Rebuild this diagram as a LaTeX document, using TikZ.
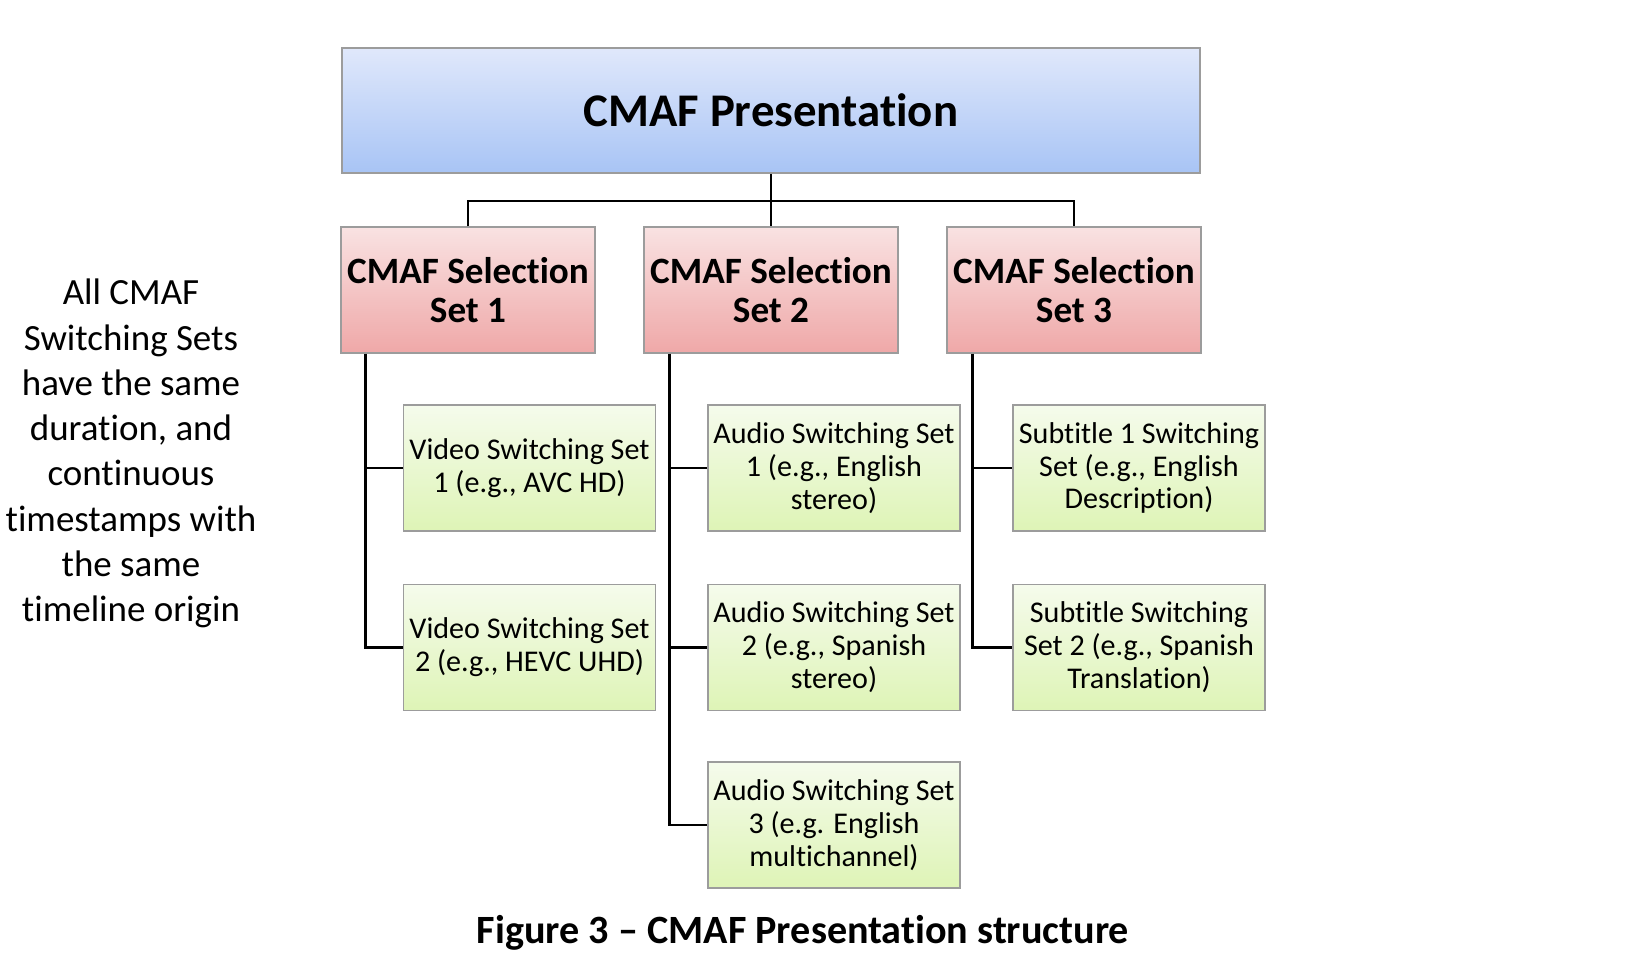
\documentclass[tikz,border=0pt]{standalone}
\usepackage{fontspec}
\setmainfont{Carlito}[Ligatures=NoCommon]
\definecolor{bluetop}{HTML}{E0E8FB}
\definecolor{bluebot}{HTML}{A8C4F5}
\definecolor{redtop}{HTML}{F9E2E2}
\definecolor{redbot}{HTML}{EFA8A8}
\definecolor{greentop}{HTML}{F5FBEC}
\definecolor{greenbot}{HTML}{DEF4B6}
\definecolor{edgegray}{HTML}{9C9C9C}
\tikzset{
  basebox/.style={draw=edgegray, line width=1.5bp, inner sep=0pt, align=center, text=black},
  topbox/.style={basebox, top color=bluetop, bottom color=bluebot, minimum width=858bp, minimum height=125bp,
    font=\fontsize{47}{52}\selectfont\bfseries},
  selbox/.style={basebox, top color=redtop, bottom color=redbot, minimum width=254bp, minimum height=126bp,
    font=\fontsize{37.3}{38.5}\selectfont\bfseries},
  swbox/.style={basebox, top color=greentop, bottom color=greenbot, minimum width=252bp, minimum height=126bp,
    font=\fontsize{30.2}{33}\selectfont},
  link/.style={draw=black, line width=2.6bp},
}
\begin{document}
\begin{tikzpicture}[x=1bp, y=-1bp]
\useasboundingbox (0,0) rectangle (1646,978);
\node[topbox] (pres) at (771,110.5) {CMAF Presentation};
\node[selbox] (sel1) at (468,290) {CMAF Selection\\Set 1};
\node[selbox] (sel2) at (771,290) {CMAF Selection\\Set 2};
\node[selbox] (sel3) at (1074,290) {CMAF Selection\\Set 3};

\node[swbox] (v1) at (529.5,468) {Video Switching Set\\1 (e.g., AVC HD)};
\node[swbox] (v2) at (529.5,647.5) {Video Switching Set\\2 (e.g., HEVC UHD)};
\node[swbox] (a1) at (834,468) {Audio Switching Set\\1 (e.g., English\\stereo)};
\node[swbox] (a2) at (834,647.5) {Audio Switching Set\\2 (e.g., Spanish\\stereo)};
\node[swbox] (a3) at (834,825) {Audio Switching Set\\3 (e.g. English\\multichannel)};
\node[swbox] (s1) at (1139,468) {Subtitle 1 Switching\\Set (e.g., English\\Description)};
\node[swbox] (s2) at (1139,647.5) {Subtitle Switching\\Set 2 (e.g., Spanish\\Translation)};

\coordinate (bus) at (771,201);
\draw[link] (pres.south) -- (sel2.north);
\draw[link] (sel1.north) |- (bus) -| (sel3.north);

\coordinate (t1) at ([xshift=25bp]sel1.south west);
\coordinate (t2) at ([xshift=26bp]sel2.south west);
\coordinate (t3) at ([xshift=26bp]sel3.south west);
\draw[link] (t1) |- (v1.west);
\draw[link] (t1) |- (v2.west);
\draw[link] (t2) |- (a1.west);
\draw[link] (t2) |- (a2.west);
\draw[link] (t2) |- (a3.west);
\draw[link] (t3) |- (s1.west);
\draw[link] (t3) |- (s2.west);

\node[align=center, inner sep=0pt, font=\fontsize{37.1}{45.4}\selectfont] (note) at (131,453.5)
  {All CMAF\\Switching Sets\\have the same\\duration, and\\continuous\\timestamps with\\the same\\timeline origin};

\node[anchor=base, inner sep=0pt, font=\fontsize{40.3}{44}\selectfont\bfseries] (cap) at (803,943)
  {Figure 3 – CMAF Presentation structure};
\end{tikzpicture}
\end{document}
